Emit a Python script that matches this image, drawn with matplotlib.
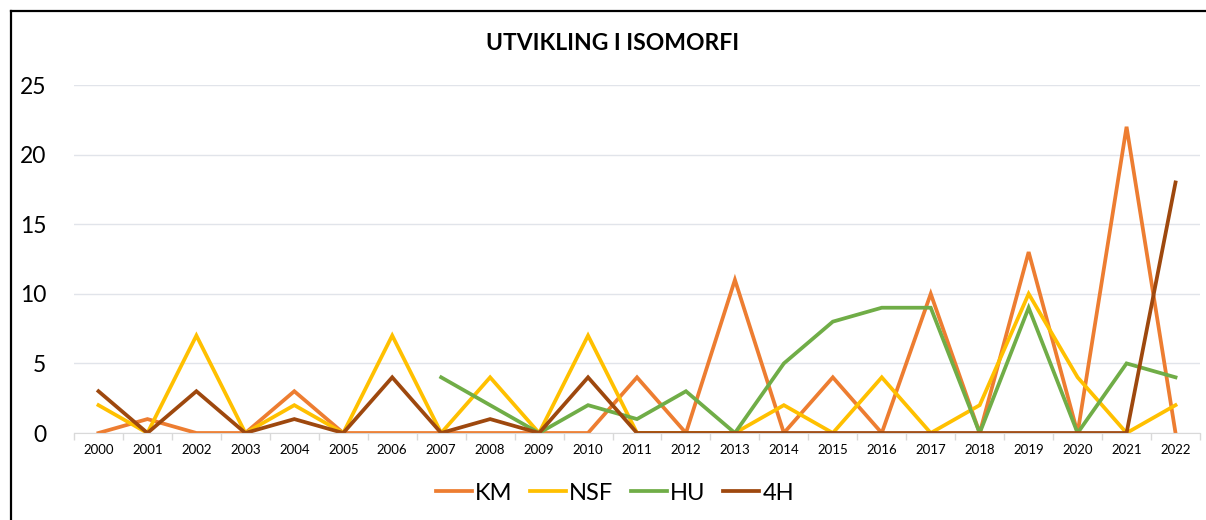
import numpy as np
import matplotlib
matplotlib.use("Agg")
import matplotlib.pyplot as plt
from matplotlib.lines import Line2D

plt.rcParams["font.family"] = ["Lato", "DejaVu Sans"]

years = [str(y) for y in range(2000, 2023)]
km = [0, 1, 0, 0, 3, 0, 0, 0, 0, 0, 0, 4, 0, 11, 0, 4, 0, 10, 0, 13, 0, 22, 0]
nsf = [2, 0, 7, 0, 2, 0, 7, 0, 4, 0, 7, 0, 0, 0, 2, 0, 4, 0, 2, 10, 4, 0, 2]
hu = [np.nan] * 7 + [4, 2, 0, 2, 1, 3, 0, 5, 8, 9, 9, 0, 9, 0, 5, 4]
h4 = [3, 0, 3, 0, 1, 0, 4, 0, 1, 0, 4, 0, 0, 0, 0, 0, 0, 0, 0, 0, 0, 0, 18]

series = [("KM", km, "#ED7D31"), ("NSF", nsf, "#FFC000"),
          ("HU", hu, "#70AD47"), ("4H", h4, "#9E480E")]

fig = plt.figure(figsize=(12.06, 5.20), dpi=100)
ax = fig.add_axes([74 / 1206, 87 / 520, 1126 / 1206, 348 / 520])

x = np.arange(len(years))
for name, vals, col in series:
    ax.plot(x, vals, color=col, lw=2.7, label=name, solid_joinstyle="miter")

ax.set_xlim(-0.5, len(years) - 0.5)
ax.set_ylim(0, 25)
ax.set_yticks([0, 5, 10, 15, 20, 25])
ax.set_xticks(x)
ax.set_xticklabels(years, fontsize=9.5)
ax.set_xticks(np.arange(-0.5, len(years)), minor=True)
ax.tick_params(axis="x", which="major", length=0, pad=8)
ax.tick_params(axis="x", which="minor", length=5, color="#D9D9D9", width=1)
ax.tick_params(axis="y", length=0, labelsize=16.5, pad=20)
ax.grid(axis="y", color="#E1E4EA", lw=1)
ax.set_axisbelow(True)
for s in ["top", "right", "left"]:
    ax.spines[s].set_visible(False)
ax.spines["bottom"].set_color("#D9D9D9")

fig.text(0.5 + 10 / 1206, 1 - 43 / 520, "UTVIKLING I ISOMORFI", ha="center",
         va="center", fontsize=16.5, fontweight="bold")

fig.legend(loc="center", bbox_to_anchor=(615 / 1206, 1 - 493 / 520), ncol=4,
           frameon=False, fontsize=17, handlelength=1.5, handletextpad=0.15,
           columnspacing=0.75)

# frame of the original screenshot
fig.add_artist(Line2D([10.5 / 1206, 10.5 / 1206], [0, 1 - 11 / 520],
                      color="black", lw=1.6, transform=fig.transFigure))
fig.add_artist(Line2D([10.5 / 1206, 1], [1 - 11 / 520, 1 - 11 / 520],
                      color="black", lw=1.6, transform=fig.transFigure))

fig.savefig("out.png", dpi=100)
